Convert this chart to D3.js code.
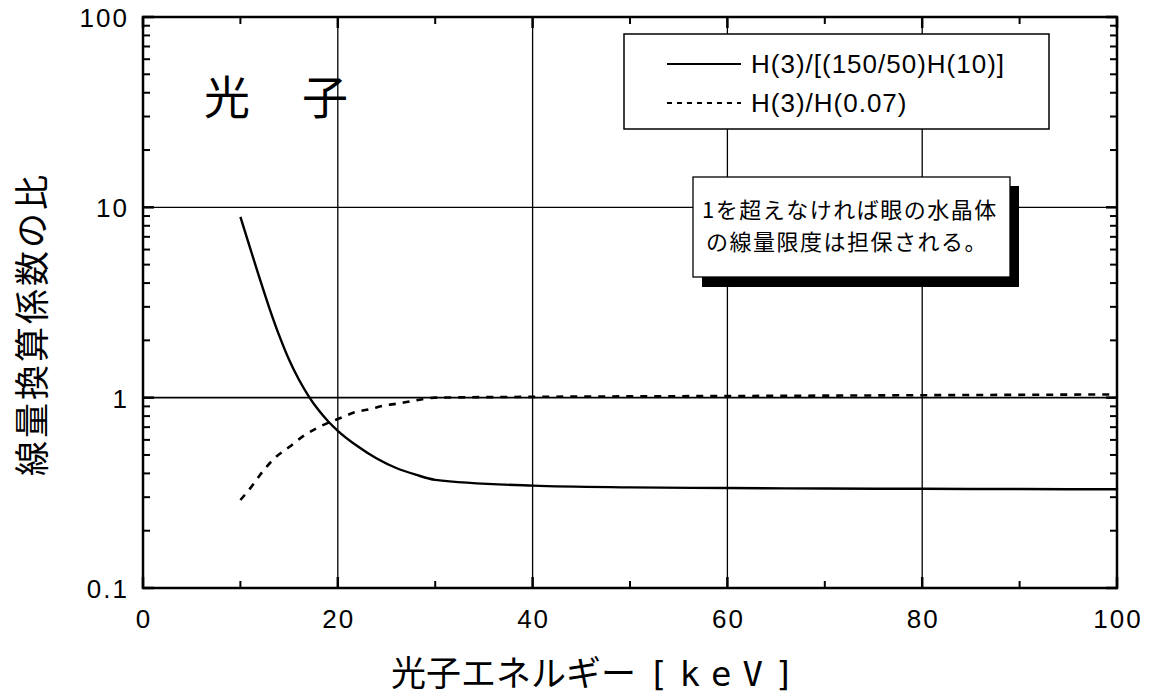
<!DOCTYPE html>
<html>
<head>
<meta charset="utf-8">
<script src="https://cdnjs.cloudflare.com/ajax/libs/d3/7.8.5/d3.min.js"></script>
<style>
body { margin: 0; background: #fff; }
svg { display: block; }
.tick-label { font-family: "Liberation Sans", Arial, sans-serif; font-size: 26px; letter-spacing: 2px; fill: #000; }
.jp { font-family: "Noto Sans CJK JP", sans-serif; fill: #000; }
.leg { font-family: "Liberation Sans", Arial, sans-serif; font-size: 26px; letter-spacing: 1px; fill: #000; }
</style>
</head>
<body>
<svg id="chart" width="1153" height="696"></svg>
<script>
// photon energy [keV] and ratio values
var energyH10 = [10, 11, 12, 13, 14, 15, 16, 17, 18, 19, 20, 22, 24, 26, 28, 30, 40, 50, 60, 70, 80, 90, 100];
var ratioH10  = [8.9, 6.1, 4.2, 2.93, 2.11, 1.58, 1.245, 1.02, 0.863, 0.752, 0.67, 0.557, 0.479, 0.427, 0.394, 0.37, 0.345, 0.338, 0.335, 0.333, 0.332, 0.331, 0.33];

var energyH007 = [10, 11.2, 12.3, 13.5, 15, 16.3, 17.8, 20.5, 21.8, 23.3, 24.8, 26.1, 27.6, 30, 40, 60, 80, 100];
var ratioH007  = [0.29, 0.344, 0.41, 0.48, 0.55, 0.62, 0.69, 0.79, 0.84, 0.87, 0.91, 0.93, 0.96, 1.0, 1.01, 1.02, 1.03, 1.04];

var xTicks = [0, 20, 40, 60, 80, 100];
var xMinor = [10, 30, 50, 70, 90];
var yTicks = [0.1, 1, 10, 100];
var yTickLabels = ["0.1", "1", "10", "100"];
var xGrid = [20, 40, 60, 80];
var yGrid = [1, 10];

var legendLabels = ["H(3)/[(150/50)H(10)]", "H(3)/H(0.07)"];
var noteLines = ["1を超えなければ眼の水晶体", "の線量限度は担保される。"];

// plot area (note: "top" is reserved on window, so prefix everything)
var pLeft = 143, pRight = 1117, pTop = 17, pBottom = 588;

var svg = d3.select("#chart");

var x = d3.scaleLinear().domain([0, 100]).range([pLeft, pRight]);
var y = d3.scaleLog().domain([0.1, 100]).range([pBottom, pTop]);

// minor log ticks 2..9 in each decade
var yMinor = [];
yTicks.slice(0, 3).forEach(function(d) {
	for (var k = 2; k < 10; k++) yMinor.push(d * k);
});

// grid lines
svg.append("g").selectAll("line")
	.data(xGrid).enter().append("line")
	.attr("x1", function(d) { return x(d); })
	.attr("x2", function(d) { return x(d); })
	.attr("y1", pTop).attr("y2", pBottom)
	.attr("stroke", "#000").attr("stroke-width", 1.3);

svg.append("g").selectAll("line")
	.data(yGrid).enter().append("line")
	.attr("x1", pLeft).attr("x2", pRight)
	.attr("y1", function(d) { return y(d); })
	.attr("y2", function(d) { return y(d); })
	.attr("stroke", "#000").attr("stroke-width", function(d) { return d == 1 ? 1.6 : 1.2; });

// ticks on all four sides, pointing inward
function drawTicks(vals, len, w) {
	var g = svg.append("g").attr("stroke", "#000").attr("stroke-width", w);
	vals.forEach(function(v) {
		g.append("line").attr("x1", x(v)).attr("x2", x(v)).attr("y1", pBottom).attr("y2", pBottom - len);
		g.append("line").attr("x1", x(v)).attr("x2", x(v)).attr("y1", pTop).attr("y2", pTop + len);
	});
}
drawTicks(xTicks, 11, 2.5);
drawTicks(xMinor, 7, 2);

function drawYTicks(vals, len, w) {
	var g = svg.append("g").attr("stroke", "#000").attr("stroke-width", w);
	vals.forEach(function(v) {
		g.append("line").attr("x1", pLeft).attr("x2", pLeft + len).attr("y1", y(v)).attr("y2", y(v));
		g.append("line").attr("x1", pRight).attr("x2", pRight - len).attr("y1", y(v)).attr("y2", y(v));
	});
}
drawYTicks(yTicks, 11, 2.5);
drawYTicks(yMinor, 7, 2);

// curves
var line = d3.line()
	.x(function(d) { return x(d[0]); })
	.y(function(d) { return y(d[1]); })
	.curve(d3.curveMonotoneX);

svg.append("path")
	.datum(d3.zip(energyH10, ratioH10))
	.attr("d", line)
	.attr("fill", "none").attr("stroke", "#000").attr("stroke-width", 2.4);

svg.append("path")
	.datum(d3.zip(energyH007, ratioH007))
	.attr("d", line)
	.attr("fill", "none").attr("stroke", "#000").attr("stroke-width", 2.6)
	.attr("stroke-dasharray", "7,7");

// frame
svg.append("rect")
	.attr("x", pLeft).attr("y", pTop)
	.attr("width", pRight - pLeft).attr("height", pBottom - pTop)
	.attr("fill", "none").attr("stroke", "#000").attr("stroke-width", 2.5);

// tick labels
svg.append("g").selectAll("text")
	.data(xTicks).enter().append("text")
	.attr("class", "tick-label")
	.attr("x", function(d) { return x(d) + 1; })
	.attr("y", 628)
	.attr("text-anchor", "middle")
	.text(function(d) { return d; });

svg.append("g").selectAll("text")
	.data(yTicks).enter().append("text")
	.attr("class", "tick-label")
	.attr("x", 129)
	.attr("y", function(d) { return y(d) + 10; })
	.attr("text-anchor", "end")
	.text(function(d, i) { return yTickLabels[i]; });

// axis titles
svg.append("text")
	.attr("class", "jp")
	.attr("transform", "translate(45,324) rotate(-90)")
	.attr("text-anchor", "middle")
	.style("font-size", "35px")
	.style("letter-spacing", "3px")
	.text("線量換算係数の比");

var xt = svg.append("text")
	.attr("class", "jp")
	.attr("x", 391).attr("y", 686)
	.style("font-size", "35px");
xt.append("tspan").text("光子エネルギー");
xt.append("tspan")
	.attr("dx", 12)
	.style("font-family", "'DejaVu Sans Mono', monospace")
	.style("font-size", "34px")
	.style("letter-spacing", "11px")
	.text("[keV]");

// "photon" label
svg.append("text").attr("class", "jp")
	.attr("x", 227).attr("y", 114)
	.attr("text-anchor", "middle")
	.style("font-size", "46px")
	.text("光");
svg.append("text").attr("class", "jp")
	.attr("x", 325).attr("y", 114)
	.attr("text-anchor", "middle")
	.style("font-size", "46px")
	.text("子");

// legend box
var lg = svg.append("g");
lg.append("rect")
	.attr("x", 624).attr("y", 34)
	.attr("width", 425).attr("height", 95)
	.attr("fill", "#fff").attr("stroke", "#000").attr("stroke-width", 1.5);
lg.selectAll("line")
	.data(legendLabels).enter().append("line")
	.attr("x1", 667).attr("x2", 741)
	.attr("y1", function(d, i) { return 64 + i * 39; })
	.attr("y2", function(d, i) { return 64 + i * 39; })
	.attr("stroke", "#000").attr("stroke-width", 1.8)
	.attr("stroke-dasharray", function(d, i) { return i == 0 ? null : "5,5"; });
lg.selectAll("text")
	.data(legendLabels).enter().append("text")
	.attr("class", "leg")
	.attr("x", 751)
	.attr("y", function(d, i) { return 73 + i * 39; })
	.text(function(d) { return d; });

// note box with a heavy drop shadow
var nb = svg.append("g");
nb.append("rect")
	.attr("x", 702).attr("y", 186)
	.attr("width", 317).attr("height", 101)
	.attr("fill", "#000");
nb.append("rect")
	.attr("x", 693).attr("y", 177)
	.attr("width", 317).attr("height", 100)
	.attr("fill", "#fff").attr("stroke", "#000").attr("stroke-width", 1.3);
nb.selectAll("text")
	.data(noteLines).enter().append("text")
	.attr("class", "jp")
	.attr("x", function(d, i) { return i == 0 ? 702 : 706; })
	.attr("y", function(d, i) { return 218 + i * 32; })
	.style("font-size", "22px")
	.style("letter-spacing", "1.5px")
	.text(function(d) { return d; });
</script>
</body>
</html>
